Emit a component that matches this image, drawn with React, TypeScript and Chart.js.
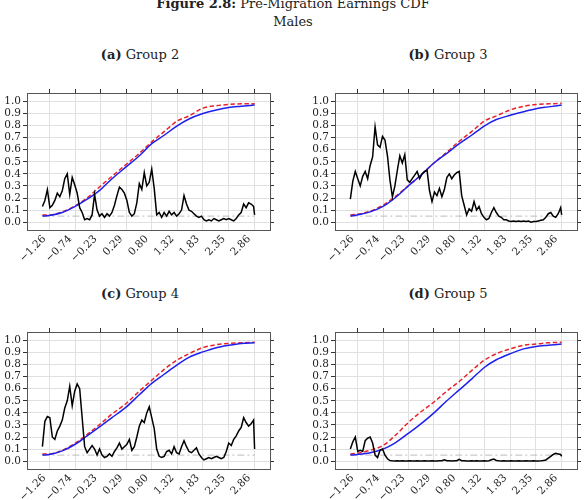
import { useEffect, useRef } from "react";
import { Chart, registerables } from "chart.js";

Chart.register(...registerables);

// Axis ticks shared by all four panels
const xTickValues = [-1.26, -0.74, -0.23, 0.29, 0.8, 1.32, 1.83, 2.35, 2.86];
const xTickLabels = ["−1.26", "−0.74", "−0.23", "0.29", "0.80", "1.32", "1.83", "2.35", "2.86"];
const yTickValues = [0, 0.1, 0.2, 0.3, 0.4, 0.5, 0.6, 0.7, 0.8, 0.9, 1.0];
const yTickLabels = ["0.0", "0.1", "0.2", "0.3", "0.4", "0.5", "0.6", "0.7", "0.8", "0.9", "1.0"];

// Log-earnings points where the two CDFs are evaluated
const cdfGrid = [-1.4, -1.26, -1.0, -0.74, -0.5, -0.23, 0.0, 0.29, 0.55, 0.8, 1.05, 1.32, 1.55, 1.83, 2.1, 2.35, 2.6, 2.87];

// Log-earnings points of the p-value path
const pGrid = [
  -1.4, -1.35, -1.3, -1.25, -1.2, -1.15, -1.1, -1.05, -1.0, -0.95,
  -0.9, -0.85, -0.8, -0.75, -0.7, -0.65, -0.6, -0.55, -0.5, -0.45,
  -0.4, -0.35, -0.3, -0.25, -0.2, -0.15, -0.1, -0.05, 0.0, 0.05,
  0.1, 0.15, 0.2, 0.25, 0.3, 0.35, 0.4, 0.45, 0.5, 0.55,
  0.6, 0.65, 0.7, 0.75, 0.8, 0.85, 0.9, 0.95, 1.0, 1.05,
  1.1, 1.15, 1.2, 1.25, 1.3, 1.35, 1.4, 1.45, 1.5, 1.55,
  1.6, 1.65, 1.7, 1.75, 1.8, 1.85, 1.9, 1.95, 2.0, 2.05,
  2.1, 2.15, 2.2, 2.25, 2.3, 2.35, 2.4, 2.45, 2.5, 2.55,
  2.6, 2.65, 2.7, 2.75, 2.8, 2.85, 2.87,
];

const significanceLevel = 0.05;

// Group 2
const group2Solid = [0.05, 0.055, 0.08, 0.13, 0.19, 0.27, 0.36, 0.46, 0.55, 0.65, 0.72, 0.8, 0.855, 0.9, 0.93, 0.95, 0.96, 0.97];
const group2Dashed = [0.06, 0.06, 0.085, 0.135, 0.2, 0.3, 0.38, 0.48, 0.57, 0.665, 0.75, 0.84, 0.88, 0.945, 0.965, 0.975, 0.98, 0.98];
const group2PValue = [
  0.13, 0.18, 0.27, 0.12, 0.14, 0.18, 0.24, 0.21, 0.26, 0.36,
  0.4, 0.23, 0.37, 0.31, 0.24, 0.12, 0.08, 0.02, 0.03, 0.02,
  0.06, 0.23, 0.1, 0.05, 0.07, 0.04, 0.07, 0.05, 0.08, 0.14,
  0.22, 0.29, 0.27, 0.24, 0.18, 0.08, 0.05, 0.07, 0.16, 0.32,
  0.27, 0.41, 0.3, 0.33, 0.44, 0.28, 0.06, 0.08, 0.04, 0.08,
  0.05, 0.09, 0.06, 0.08, 0.05, 0.07, 0.1, 0.22, 0.15, 0.1,
  0.09, 0.07, 0.05, 0.04, 0.05, 0.02, 0.01, 0.02, 0.01, 0.03,
  0.02, 0.01, 0.02, 0.03, 0.02, 0.03, 0.02, 0.01, 0.03, 0.06,
  0.08, 0.15, 0.12, 0.16, 0.15, 0.13, 0.06,
];

// Group 3
const group3Solid = [0.05, 0.06, 0.085, 0.13, 0.2, 0.3, 0.38, 0.49, 0.57, 0.65, 0.72, 0.8, 0.85, 0.885, 0.915, 0.94, 0.955, 0.97];
const group3Dashed = [0.06, 0.065, 0.09, 0.14, 0.21, 0.3, 0.38, 0.49, 0.58, 0.67, 0.75, 0.84, 0.88, 0.93, 0.96, 0.975, 0.98, 0.985];
const group3PValue = [
  0.19, 0.34, 0.42, 0.36, 0.3, 0.38, 0.42, 0.36, 0.47, 0.54,
  0.79, 0.64, 0.62, 0.71, 0.68, 0.55, 0.35, 0.21, 0.3, 0.43,
  0.55, 0.49, 0.56, 0.35, 0.33, 0.36, 0.39, 0.42, 0.36, 0.4,
  0.42, 0.43, 0.26, 0.17, 0.25, 0.22, 0.28, 0.21, 0.27, 0.37,
  0.4, 0.36, 0.39, 0.41, 0.42, 0.22, 0.14, 0.06, 0.11, 0.09,
  0.17, 0.1, 0.13, 0.07, 0.04, 0.02, 0.03, 0.08, 0.12, 0.08,
  0.05, 0.04, 0.02, 0.02, 0.01, 0.005, 0.01, 0.005, 0.01, 0.005,
  0.01, 0.005, 0.01, 0.0, 0.005, 0.005, 0.01, 0.015, 0.02, 0.04,
  0.07, 0.08, 0.05, 0.04, 0.07, 0.12, 0.06,
];

// Group 4
const group4Solid = [0.05, 0.055, 0.085, 0.14, 0.21, 0.29, 0.36, 0.45, 0.55, 0.645, 0.72, 0.8, 0.86, 0.905, 0.94, 0.96, 0.975, 0.98];
const group4Dashed = [0.06, 0.06, 0.09, 0.15, 0.22, 0.31, 0.39, 0.48, 0.58, 0.67, 0.76, 0.84, 0.89, 0.94, 0.965, 0.975, 0.98, 0.985];
const group4PValue = [
  0.12, 0.33, 0.37, 0.36, 0.2, 0.18, 0.25, 0.29, 0.34, 0.44,
  0.5, 0.62, 0.46, 0.58, 0.64, 0.6, 0.36, 0.12, 0.07, 0.1,
  0.13, 0.1, 0.05, 0.1, 0.05, 0.03, 0.04, 0.06, 0.04, 0.08,
  0.11, 0.15, 0.1, 0.12, 0.14, 0.18, 0.09, 0.12, 0.2, 0.29,
  0.34, 0.32, 0.4, 0.45, 0.36, 0.27, 0.1, 0.04, 0.03, 0.04,
  0.08, 0.09, 0.06, 0.12, 0.07, 0.06, 0.12, 0.17, 0.12, 0.08,
  0.07, 0.09, 0.11, 0.06, 0.03, 0.01, 0.02, 0.03, 0.02, 0.03,
  0.04, 0.03, 0.02, 0.03, 0.08, 0.15, 0.13, 0.18, 0.21, 0.25,
  0.28, 0.36, 0.32, 0.29, 0.31, 0.34, 0.1,
];

// Group 5
const group5Solid = [0.05, 0.055, 0.07, 0.1, 0.15, 0.23, 0.3, 0.4, 0.5, 0.59, 0.68, 0.78, 0.84, 0.89, 0.93, 0.95, 0.96, 0.97];
const group5Dashed = [0.06, 0.065, 0.09, 0.13, 0.21, 0.32, 0.4, 0.49, 0.58, 0.66, 0.75, 0.84, 0.89, 0.93, 0.96, 0.97, 0.98, 0.985];
const group5PValue = [
  0.1, 0.16, 0.2, 0.08, 0.09, 0.08, 0.17, 0.19, 0.2, 0.15,
  0.05, 0.03, 0.09, 0.1, 0.05, 0.02, 0.005, 0.003, 0.002, 0.003,
  0.002, 0.003, 0.002, 0.002, 0.003, 0.002, 0.002, 0.003, 0.002, 0.002,
  0.003, 0.002, 0.002, 0.003, 0.002, 0.002, 0.003, 0.003, 0.012, 0.004,
  0.003, 0.002, 0.003, 0.004, 0.015, 0.004, 0.003, 0.002, 0.002, 0.003,
  0.002, 0.003, 0.002, 0.002, 0.003, 0.002, 0.004, 0.012, 0.018, 0.006,
  0.003, 0.002, 0.003, 0.002, 0.002, 0.003, 0.002, 0.002, 0.003, 0.002,
  0.002, 0.003, 0.002, 0.002, 0.003, 0.002, 0.002, 0.003, 0.005, 0.01,
  0.025, 0.04, 0.055, 0.065, 0.06, 0.055, 0.04,
];

const X_MIN = -1.71;
const X_MAX = 3.18;
const Y_MIN = -0.065;
const Y_MAX = 1.07;

const SERIF = '"DejaVu Serif", "Liberation Serif", serif';
const GRID = "#e0e0e0";
const FRAME = "#555555";
const TICK = "#333333";

type PanelProps = {
  letter: string;
  group: string;
  left: number;
  top: number;
  titleCenter: number;
  padRight: number;
  pValue: number[];
  solid: number[];
  dashed: number[];
};

const setTicks = (values: number[]) => (axis: any) => {
  axis.ticks = values.map((value) => ({ value }));
};

function Panel({ letter, group, left, top, titleCenter, padRight, pValue, solid, dashed }: PanelProps) {
  const canvasRef = useRef<HTMLCanvasElement>(null);

  useEffect(() => {
    const canvas = canvasRef.current;
    if (!canvas) return;
    const chart = new Chart(canvas, {
      type: "line",
      data: {
        datasets: [
          {
            data: pGrid.map((x, i) => ({ x, y: pValue[i] })),
            borderColor: "#000000",
            borderWidth: 1.5,
            pointRadius: 0,
            tension: 0,
          },
          {
            data: cdfGrid.map((x, i) => ({ x, y: solid[i] })),
            borderColor: "#1f1fee",
            borderWidth: 1.5,
            pointRadius: 0,
            cubicInterpolationMode: "monotone",
          },
          {
            data: cdfGrid.map((x, i) => ({ x, y: dashed[i] })),
            borderColor: "#e8222a",
            borderWidth: 1.5,
            borderDash: [4.5, 2.5],
            pointRadius: 0,
            cubicInterpolationMode: "monotone",
          },
          {
            data: [
              { x: pGrid[0], y: significanceLevel },
              { x: pGrid[pGrid.length - 1], y: significanceLevel },
            ],
            borderColor: "#bdbdbd",
            borderWidth: 1,
            borderDash: [7, 3, 2, 3],
            pointRadius: 0,
          },
        ],
      },
      options: {
        responsive: false,
        animation: false,
        devicePixelRatio: 1,
        layout: { padding: { top: 21, right: padRight, bottom: 3, left: 0 } },
        plugins: {
          legend: { display: false },
          tooltip: { enabled: false },
          title: { display: false },
        },
        scales: {
          x: {
            type: "linear",
            position: "bottom",
            min: X_MIN,
            max: X_MAX,
            afterBuildTicks: setTicks(xTickValues),
            afterFit: (axis: any) => {
              axis.height = 40;
            },
            ticks: {
              autoSkip: false,
              minRotation: 45,
              maxRotation: 45,
              padding: 3,
              labelOffset: -5,
              color: "#222222",
              font: { family: SERIF, size: 10.5 },
              callback: (_v: any, i: number) => xTickLabels[i],
            },
            grid: { color: GRID, drawTicks: false },
            border: { color: FRAME, width: 1 },
          },
          xTop: {
            type: "linear",
            position: "top",
            min: X_MIN,
            max: X_MAX,
            afterBuildTicks: setTicks(xTickValues),
            afterFit: (axis: any) => {
              axis.height = 4;
            },
            ticks: { display: false },
            grid: { drawOnChartArea: false, drawTicks: true, tickLength: 4, tickColor: TICK },
            border: { color: FRAME, width: 1 },
          },
          y: {
            type: "linear",
            position: "left",
            min: Y_MIN,
            max: Y_MAX,
            afterBuildTicks: setTicks(yTickValues),
            afterFit: (axis: any) => {
              axis.width = 27;
            },
            ticks: {
              autoSkip: false,
              padding: 2,
              color: "#222222",
              font: { family: SERIF, size: 10.5 },
              callback: (_v: any, i: number) => yTickLabels[i],
            },
            grid: { color: GRID, drawTicks: true, tickLength: 4, tickColor: TICK },
            border: { color: FRAME, width: 1 },
          },
          yRight: {
            type: "linear",
            position: "right",
            min: Y_MIN,
            max: Y_MAX,
            afterBuildTicks: setTicks(yTickValues),
            afterFit: (axis: any) => {
              axis.width = 4;
            },
            ticks: { display: false },
            grid: { drawOnChartArea: false, drawTicks: true, tickLength: 4, tickColor: TICK },
            border: { color: FRAME, width: 1 },
          },
        },
      },
    } as any);
    return () => chart.destroy();
  }, []);

  return (
    <>
      <div
        style={{
          position: "absolute",
          left: titleCenter - 100,
          top: top - 21,
          width: 200,
          textAlign: "center",
          fontFamily: SERIF,
          fontSize: 13,
          lineHeight: "16px",
          color: "#222",
          whiteSpace: "nowrap",
        }}
      >
        <span style={{ fontWeight: "bold" }}>({letter})</span> {group}
      </div>
      <canvas
        ref={canvasRef}
        width={293}
        height={205}
        style={{ position: "absolute", left, top, width: 293, height: 205 }}
      />
    </>
  );
}

export default function App() {
  return (
    <div
      style={{
        position: "absolute",
        left: 0,
        top: 0,
        width: 586,
        height: 500,
        overflow: "hidden",
        background: "#ffffff",
      }}
    >
      <div
        style={{
          position: "absolute",
          left: 0,
          top: -5,
          width: 586,
          textAlign: "center",
          fontFamily: SERIF,
          fontSize: 13,
          lineHeight: "18px",
          color: "#222",
        }}
      >
        <div>
          <span style={{ fontWeight: "bold" }}>Figure 2.8:</span> Pre-Migration Earnings CDF
        </div>
        <div>Males</div>
      </div>
      <Panel letter="a" group="Group 2" left={0} top={68} titleCenter={140} padRight={19} pValue={group2PValue} solid={group2Solid} dashed={group2Dashed} />
      <Panel letter="b" group="Group 3" left={308} top={68} titleCenter={448} padRight={20} pValue={group3PValue} solid={group3Solid} dashed={group3Dashed} />
      <Panel letter="c" group="Group 4" left={0} top={307} titleCenter={140} padRight={19} pValue={group4PValue} solid={group4Solid} dashed={group4Dashed} />
      <Panel letter="d" group="Group 5" left={308} top={307} titleCenter={448} padRight={20} pValue={group5PValue} solid={group5Solid} dashed={group5Dashed} />
    </div>
  );
}
